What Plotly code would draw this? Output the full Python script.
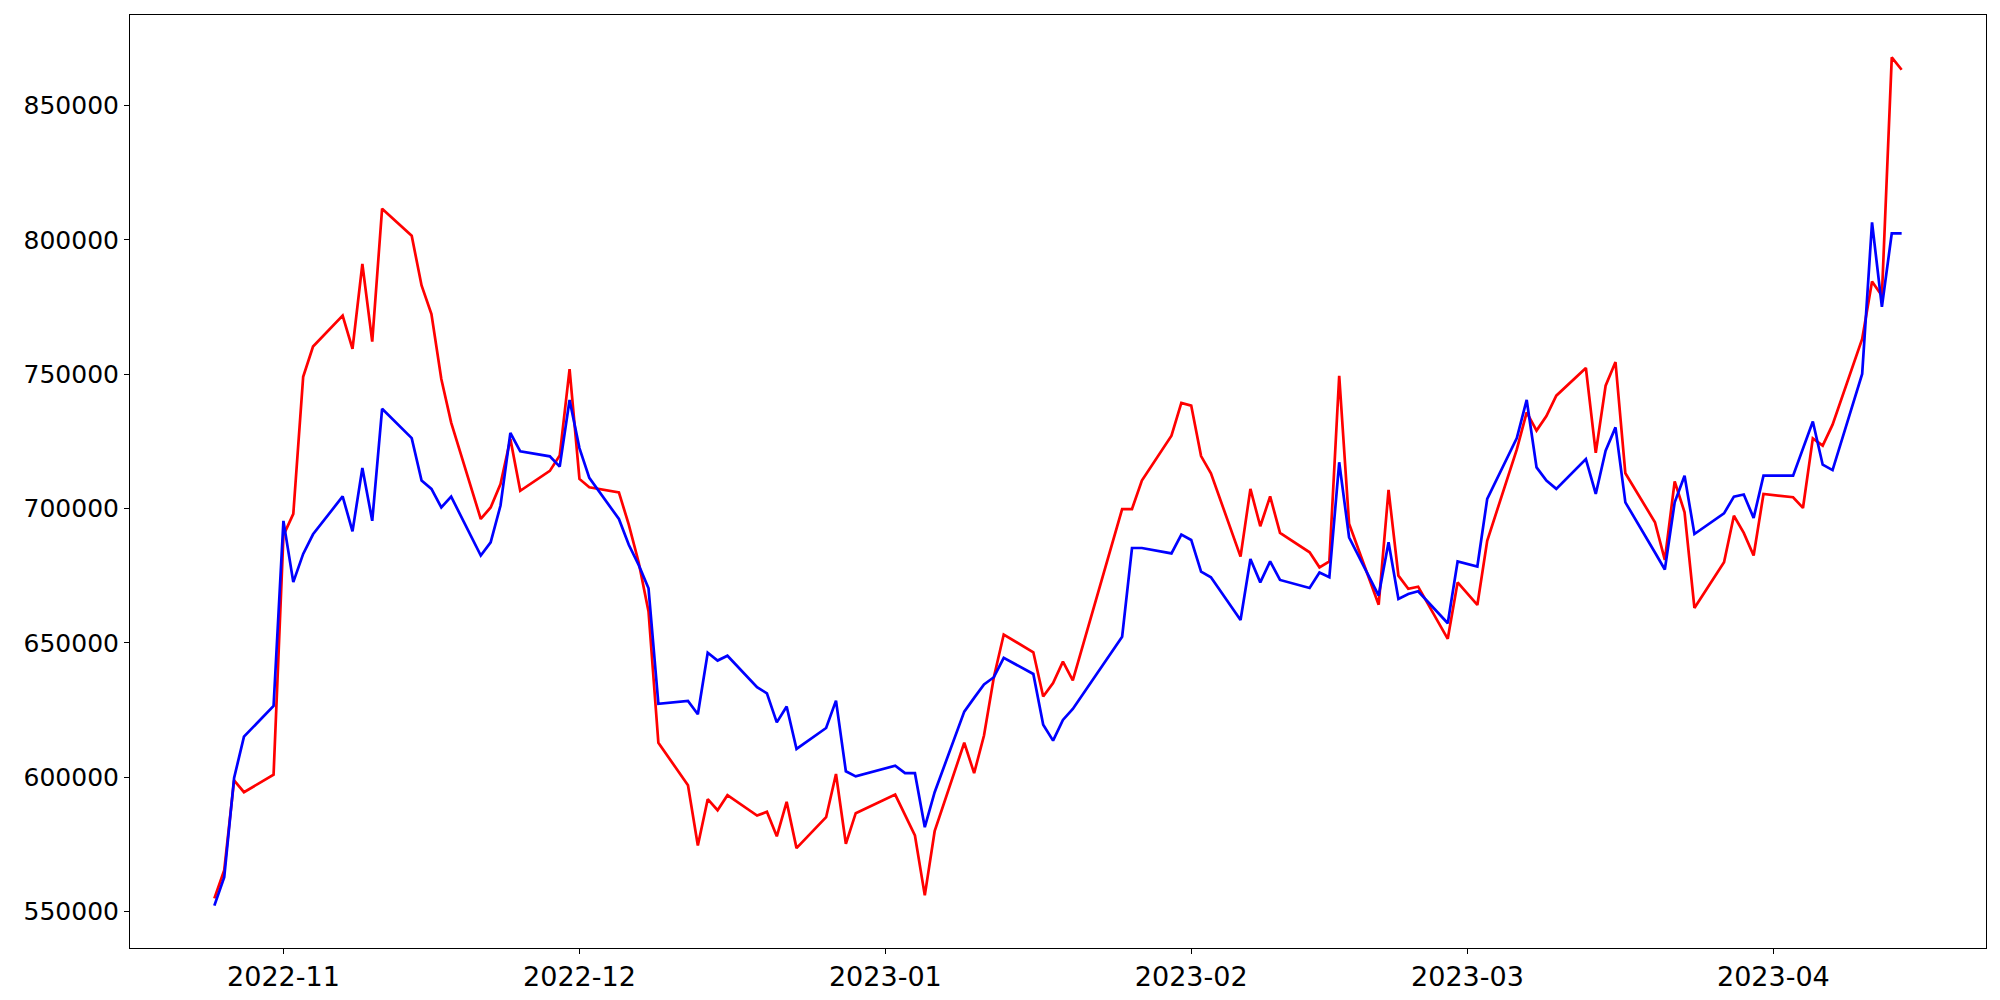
import plotly.graph_objects as go
import pandas as pd

dates = [
    "2022-10-25", "2022-10-26", "2022-10-27", "2022-10-28", "2022-10-31",
    "2022-11-01", "2022-11-02", "2022-11-03", "2022-11-04", "2022-11-07", "2022-11-08",
    "2022-11-09", "2022-11-10", "2022-11-11", "2022-11-14", "2022-11-15", "2022-11-16",
    "2022-11-17", "2022-11-18", "2022-11-21", "2022-11-22", "2022-11-23", "2022-11-24",
    "2022-11-25", "2022-11-28", "2022-11-29", "2022-11-30",
    "2022-12-01", "2022-12-02", "2022-12-05", "2022-12-06", "2022-12-07", "2022-12-08",
    "2022-12-09", "2022-12-12", "2022-12-13", "2022-12-14", "2022-12-15", "2022-12-16",
    "2022-12-19", "2022-12-20", "2022-12-21", "2022-12-22", "2022-12-23", "2022-12-26",
    "2022-12-27", "2022-12-28", "2022-12-29",
    "2023-01-02", "2023-01-03", "2023-01-04", "2023-01-05", "2023-01-06", "2023-01-09",
    "2023-01-10", "2023-01-11", "2023-01-12", "2023-01-13", "2023-01-16", "2023-01-17",
    "2023-01-18", "2023-01-19", "2023-01-20", "2023-01-25", "2023-01-26", "2023-01-27",
    "2023-01-30", "2023-01-31",
    "2023-02-01", "2023-02-02", "2023-02-03", "2023-02-06", "2023-02-07", "2023-02-08",
    "2023-02-09", "2023-02-10", "2023-02-13", "2023-02-14", "2023-02-15", "2023-02-16",
    "2023-02-17", "2023-02-20", "2023-02-21", "2023-02-22", "2023-02-23", "2023-02-24",
    "2023-02-27", "2023-02-28",
    "2023-03-02", "2023-03-03", "2023-03-06", "2023-03-07", "2023-03-08", "2023-03-09",
    "2023-03-10", "2023-03-13", "2023-03-14", "2023-03-15", "2023-03-16", "2023-03-17",
    "2023-03-20", "2023-03-21", "2023-03-22", "2023-03-23", "2023-03-24", "2023-03-27",
    "2023-03-28", "2023-03-29", "2023-03-30", "2023-03-31",
    "2023-04-03", "2023-04-04", "2023-04-05", "2023-04-06", "2023-04-07", "2023-04-10",
    "2023-04-11", "2023-04-12", "2023-04-13", "2023-04-14",
]

red_values = [
    554900, 565400, 598800, 594400, 600900,
    690000, 698000, 749000, 760300, 771800, 759400,
    791000, 762100, 811600, 801500, 783000, 772400,
    748200, 732000, 696100, 700400, 709100, 725900,
    706600, 714000, 719700, 751900,
    711000, 707900, 706000, 694000, 680000, 661700,
    612800, 597000, 574600, 591800, 587700, 593300,
    585700, 587100, 578000, 590800, 573600, 585100,
    601200, 575200, 586600,
    593500, 586000, 578300, 556000, 579900, 612800,
    601500, 615500, 637200, 653100, 646500, 630000,
    635000, 643000, 636000, 699800, 699800, 710400,
    727100, 739300,
    738300, 719500, 713100, 682100, 707300, 693400,
    704500, 690900, 683700, 678100, 680300, 749400,
    694300, 664200, 706900, 675000, 670100, 670900,
    651500, 672500,
    664100, 688000, 722000, 735800, 729000, 734400,
    742000, 752300, 720700, 745700, 754500, 713100,
    694900, 680900, 710100, 698600, 663000, 680000,
    697300, 690900, 682500, 705400,
    704200, 700200, 726100, 723400, 731200, 763100,
    784500, 779200, 867900, 863300,
]

blue_values = [
    552200, 562800, 599700, 615100, 626500,
    695400, 672600, 683100, 690400, 704500, 691500,
    715100, 695400, 737100, 726200, 710400, 707300,
    700400, 704400, 682500, 687400, 701100, 728100,
    721300, 719400, 715600, 740400,
    722500, 711400, 696100, 686500, 679000, 670300,
    627300, 628400, 623400, 646300, 643400, 645200,
    633500, 631200, 620400, 626300, 610500, 618300,
    628500, 602200, 600300,
    604300, 601500, 601500, 581400, 594400, 624400,
    629500, 634500, 637200, 644400, 638400, 619500,
    613600, 621300, 625400, 652300, 685300, 685300,
    683300, 690300,
    688300, 676500, 674400, 658500, 681200, 672500,
    680300, 673400, 670400, 676200, 674400, 717200,
    689300, 667600, 687400, 666300, 668200, 669200,
    657300, 680300,
    678400, 703600, 726200, 740400, 715300, 710400,
    707300, 718400, 705400, 721500, 730200, 702300,
    683600, 677300, 702300, 712200, 690500, 698200,
    704400, 705200, 696500, 712200,
    712200, 722000, 732400, 716300, 714300, 750100,
    806500, 775100, 802400, 802400,
]

assert len(dates) == len(red_values) == len(blue_values)

dt = pd.to_datetime(dates)
span_t = dt.max() - dt.min()
x_range = [dt.min() - 0.05 * span_t, dt.max() + 0.05 * span_t]
all_vals = red_values + blue_values
vmin, vmax = min(all_vals), max(all_vals)
span_v = vmax - vmin
y_range = [vmin - 0.05 * span_v, vmax + 0.05 * span_v]

fig = go.Figure()
fig.add_trace(go.Scatter(x=dt, y=red_values, mode="lines",
                         line=dict(color="#ff0000", width=2.7), showlegend=False))
fig.add_trace(go.Scatter(x=dt, y=blue_values, mode="lines",
                         line=dict(color="#0000ff", width=2.7), showlegend=False))

yfont = dict(family="DejaVu Sans", size=25, color="black")
xfont = dict(family="DejaVu Sans", size=27, color="black")
# page body has an 8px default margin; figure sized to fit the 2000x1000 window
fig.update_layout(
    width=1992, height=992,
    margin=dict(l=122, r=14, t=7, b=52),
    paper_bgcolor="white", plot_bgcolor="white",
    font=yfont,
)
fig.update_xaxes(
    type="date", range=x_range, tickformat="%Y-%m", dtick="M1", tick0="2022-11-01",
    showgrid=False, zeroline=False, showline=True, linecolor="black", linewidth=1,
    mirror=True, ticks="outside", ticklen=5, tickwidth=1, tickcolor="black",
    tickfont=xfont, automargin=False,
)
fig.update_yaxes(
    range=y_range, tickformat="d", dtick=50000, tick0=0,
    showgrid=False, zeroline=False, showline=True, linecolor="black", linewidth=1,
    mirror=True, ticks="outside", ticklen=5, tickwidth=1, tickcolor="black",
    tickfont=yfont, automargin=False,
)

fig.write_html("out.html")
